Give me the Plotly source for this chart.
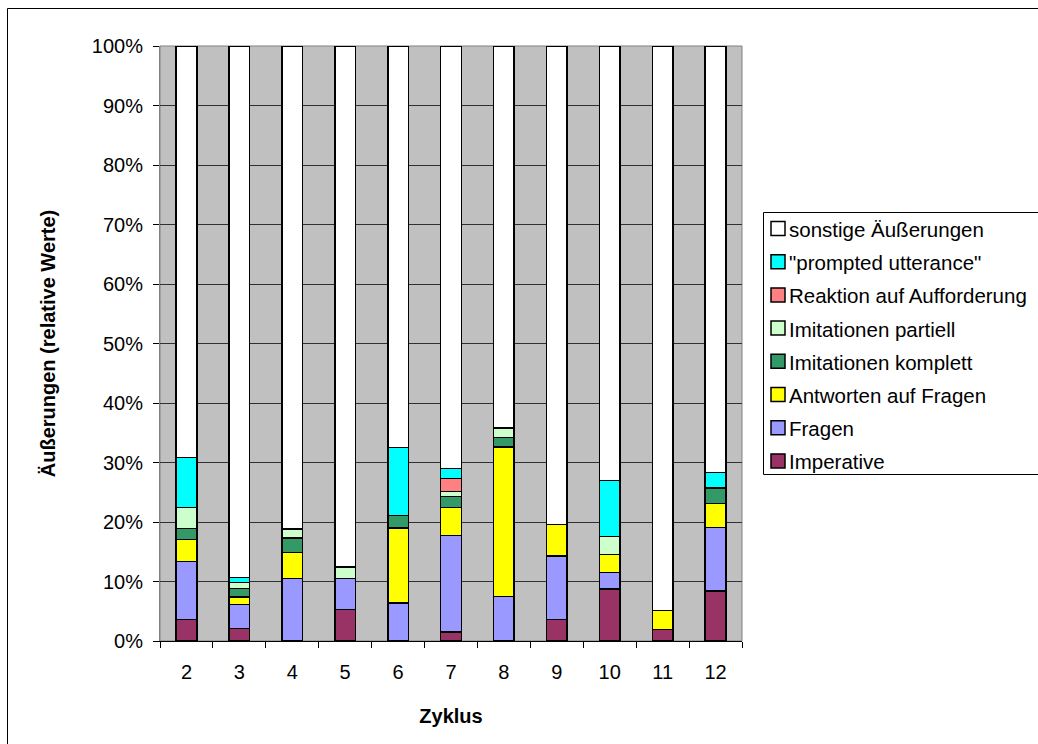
import plotly.graph_objects as go

# Zyklus categories
zyklus = ["2", "3", "4", "5", "6", "7", "8", "9", "10", "11", "12"]

# Share of utterance types per cycle (percent)
imperative = [3.6, 2.1, 0, 5.3, 0, 1.5, 0, 3.6, 8.7, 1.9, 8.4]
fragen = [9.8, 4.0, 10.5, 5.2, 6.4, 16.2, 7.5, 10.7, 2.8, 0, 10.7]
antworten = [3.7, 1.3, 4.4, 0, 12.6, 4.7, 25.1, 5.3, 3.0, 3.2, 4.0]
imit_komplett = [1.8, 1.4, 2.4, 0, 2.1, 1.9, 1.6, 0, 0, 0, 2.6]
imit_partiell = [3.5, 1.0, 1.5, 1.9, 0, 0.8, 1.6, 0, 3.1, 0, 0]
reaktion = [0, 0, 0, 0, 0, 2.2, 0, 0, 0, 0, 0]
prompted = [8.4, 0.9, 0, 0, 11.4, 1.7, 0, 0, 9.4, 0, 2.6]
sonstige = [69.2, 89.3, 81.2, 87.6, 67.5, 71.0, 64.2, 80.4, 73.0, 94.9, 71.7]

y_ticks = [0, 10, 20, 30, 40, 50, 60, 70, 80, 90, 100]
y_tick_labels = ["0%", "10%", "20%", "30%", "40%", "50%",
                 "60%", "70%", "80%", "90%", "100%"]

series = [
    ("Imperative", imperative, "#993366"),
    ("Fragen", fragen, "#9999FF"),
    ("Antworten auf Fragen", antworten, "#FFFF00"),
    ("Imitationen komplett", imit_komplett, "#339966"),
    ("Imitationen partiell", imit_partiell, "#CCFFCC"),
    ("Reaktion auf Aufforderung", reaktion, "#FF8080"),
    ("\"prompted utterance\"", prompted, "#00FFFF"),
    ("sonstige Äußerungen", sonstige, "#FFFFFF"),
]

FONT = "Liberation Sans, Arial, sans-serif"

fig = go.Figure()
for name, vals, color in series:
    fig.add_trace(go.Bar(
        name=name, x=zyklus, y=vals, showlegend=False,
        marker=dict(color=color, line=dict(color="#000000", width=1.5)),
    ))

W, H = 1038, 744
L, R, T, B = 160, 742, 46, 641


def px_x(px):
    """Figure pixel column -> paper x."""
    return (px - L) / (R - L)


def px_y(py):
    """Figure pixel row -> paper y."""
    return (B - py) / (B - T)


shapes = [
    # plot area frame
    dict(type="rect", xref="paper", yref="paper", x0=0, y0=0, x1=1, y1=1,
         line=dict(color="#808080", width=1), layer="below"),
    # chart frame: top and left edges
    dict(type="line", xref="paper", yref="paper",
         x0=px_x(7.5), y0=px_y(8.5), x1=px_x(1045), y1=px_y(8.5),
         line=dict(color="#000000", width=1)),
    dict(type="line", xref="paper", yref="paper",
         x0=px_x(7.5), y0=px_y(8.5), x1=px_x(7.5), y1=px_y(750),
         line=dict(color="#000000", width=1)),
    # legend box
    dict(type="rect", xref="paper", yref="paper",
         x0=px_x(763.5), y0=px_y(212.5), x1=px_x(1045), y1=px_y(474.5),
         line=dict(color="#000000", width=1), fillcolor="#FFFFFF"),
]
annotations = []

# legend entries, top to bottom in reverse stacking order
row0, row_step = 228.5, 33.2
for i, (name, _, color) in enumerate(reversed(series)):
    cy = row0 + i * row_step
    shapes.append(dict(
        type="rect", xref="paper", yref="paper",
        x0=px_x(771), x1=px_x(785), y0=px_y(cy - 7), y1=px_y(cy + 7),
        line=dict(color="#000000", width=1.5), fillcolor=color,
    ))
    annotations.append(dict(
        text=name, xref="paper", yref="paper", x=px_x(787), y=px_y(cy + 1),
        xanchor="left", yanchor="middle", showarrow=False,
        font=dict(family=FONT, size=20.5, color="#000000"),
    ))

fig.update_layout(
    width=W, height=H,
    barmode="stack", barnorm="percent", bargap=0.61,
    margin=dict(l=L, r=W - R, t=T, b=H - B, pad=0, autoexpand=False),
    paper_bgcolor="#FFFFFF", plot_bgcolor="#C0C0C0",
    font=dict(family=FONT, size=20, color="#000000"),
    showlegend=False,
    xaxis=dict(
        type="category",
        showline=True, linecolor="#000000", linewidth=1,
        ticks="outside", tickson="boundaries", ticklen=6, tickcolor="#000000",
        ticklabelstandoff=13,
        showgrid=False, mirror=False,
        title=dict(text="<b>Zyklus</b>", font=dict(size=20), standoff=26),
        tickfont=dict(size=20),
    ),
    yaxis=dict(
        range=[0, 100], tickvals=y_ticks, ticktext=y_tick_labels,
        showline=True, linecolor="#808080", linewidth=1,
        ticks="outside", ticklen=6, tickcolor="#000000",
        ticklabelstandoff=6,
        showgrid=True, gridcolor="#303030", gridwidth=1,
        zeroline=False,
        title=dict(text="<b>Äußerungen (relative Werte)</b>", font=dict(size=20), standoff=30),
        tickfont=dict(size=20),
    ),
    shapes=shapes,
    annotations=annotations,
)

fig.write_html("out.html")
